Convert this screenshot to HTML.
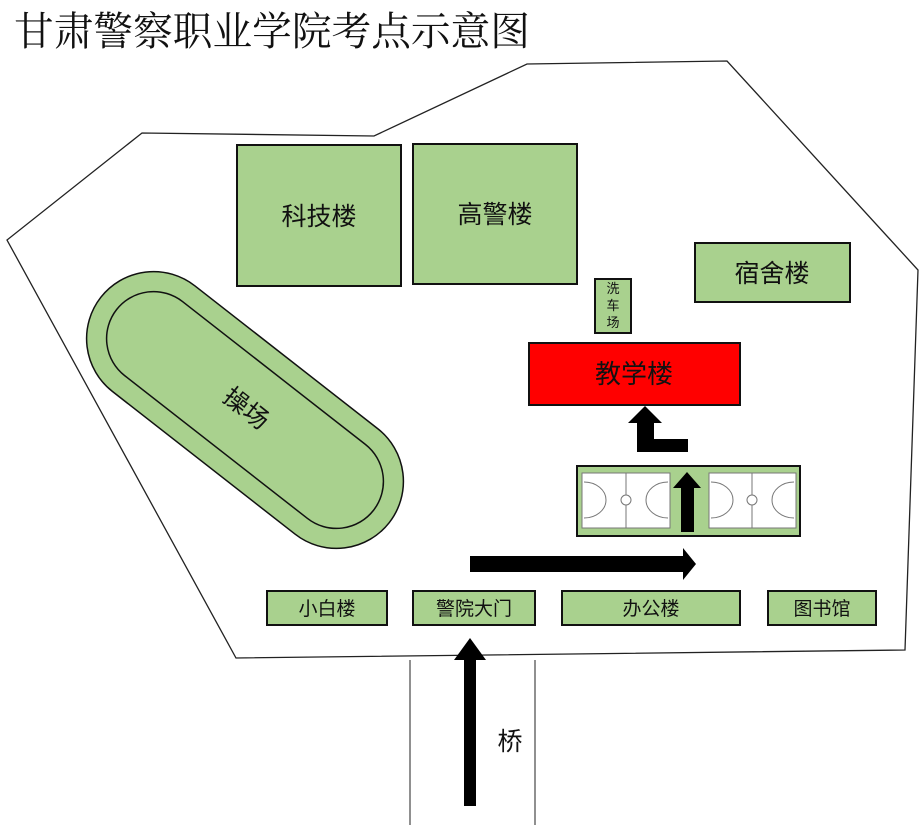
<!DOCTYPE html>
<html><head><meta charset="utf-8"><style>
html,body{margin:0;padding:0;background:#fff;}
svg{display:block;}
text{font-family:"Liberation Sans","Noto Sans CJK SC",sans-serif;fill:#111;}
</style></head><body>
<svg width="920" height="825" viewBox="0 0 920 825" xmlns="http://www.w3.org/2000/svg">
<text x="14" y="45" font-size="40" textLength="516" lengthAdjust="spacingAndGlyphs" style="font-family:'Liberation Serif','Noto Serif CJK SC',serif">甘肃警察职业学院考点示意图</text>
<polygon points="142,133 374,136 527,64 727,61 918,270 905,650 236,658 7,240" fill="#fff" stroke="#222" stroke-width="1.3"/>
<line x1="410" y1="660" x2="410" y2="825" stroke="#222" stroke-width="1"/>
<line x1="535" y1="660" x2="535" y2="825" stroke="#222" stroke-width="1"/>
<g fill="#a9d18e" stroke="#111" stroke-width="2">
<rect x="237" y="145" width="164" height="141"/>
<rect x="413" y="144" width="164" height="140"/>
<rect x="695" y="243" width="155" height="59"/>
<rect x="595" y="279" width="36" height="54"/>
<rect x="267" y="591" width="120" height="34"/>
<rect x="413" y="591" width="122" height="34"/>
<rect x="562" y="591" width="178" height="34"/>
<rect x="768" y="591" width="108" height="34"/>
<rect x="577" y="466" width="223" height="70"/>
</g>
<rect x="529" y="343" width="211" height="62" fill="#ff0000" stroke="#111" stroke-width="2"/>
<g transform="translate(245,410) rotate(38)">
<rect x="-183" y="-67" width="366" height="134" rx="67" fill="#a9d18e" stroke="#111" stroke-width="1.5"/>
<rect x="-163" y="-47" width="326" height="94" rx="47" fill="#a9d18e" stroke="#111" stroke-width="1.5"/>
</g>
<text x="245" y="410" font-size="25" text-anchor="middle" dominant-baseline="middle" transform="rotate(38 245 410)">操场</text>
<g fill="#fff" stroke="#777" stroke-width="1">
<rect x="582" y="473" width="88" height="55"/>
<rect x="709" y="473" width="87" height="55"/>
<line x1="626" y1="473" x2="626" y2="528"/><circle cx="626" cy="500" r="5"/>
<line x1="752" y1="473" x2="752" y2="528"/><circle cx="752" cy="500" r="5"/>
<path d="M584,482 A22,18 0 0 1 584,518" fill="none"/>
<path d="M668,482 A22,18 0 0 0 668,518" fill="none"/>
<path d="M711,482 A22,18 0 0 1 711,518" fill="none"/>
<path d="M794,482 A22,18 0 0 0 794,518" fill="none"/>
</g>
<text x="319" y="225" font-size="25" text-anchor="middle">科技楼</text>
<text x="495" y="223" font-size="25" text-anchor="middle">高警楼</text>
<text x="772" y="282" font-size="25" text-anchor="middle">宿舍楼</text>
<text x="613" y="293" font-size="13" text-anchor="middle">洗</text>
<text x="613" y="310" font-size="13" text-anchor="middle">车</text>
<text x="613" y="327" font-size="13" text-anchor="middle">场</text>
<text x="634" y="383" font-size="26" text-anchor="middle">教学楼</text>
<text x="327" y="615" font-size="19" text-anchor="middle">小白楼</text>
<text x="474" y="615" font-size="19" text-anchor="middle">警院大门</text>
<text x="651" y="615" font-size="19" text-anchor="middle">办公楼</text>
<text x="822" y="615" font-size="19" text-anchor="middle">图书馆</text>
<text x="510" y="750" font-size="25" text-anchor="middle">桥</text>
<g fill="#000">
<polygon points="464,806 476,806 476,660 486,660 470,638 454,660 464,660"/>
<polygon points="470,556 683,556 683,548 696,564 683,580 683,572 470,572"/>
<polygon points="681,532 694,532 694,488 701,488 687,472 673,488 681,488"/>
<polygon points="637,452 688,452 688,439 654,439 654,423 662,423 645,406 628,423 637,423"/>
</g>
</svg>
</body></html>
